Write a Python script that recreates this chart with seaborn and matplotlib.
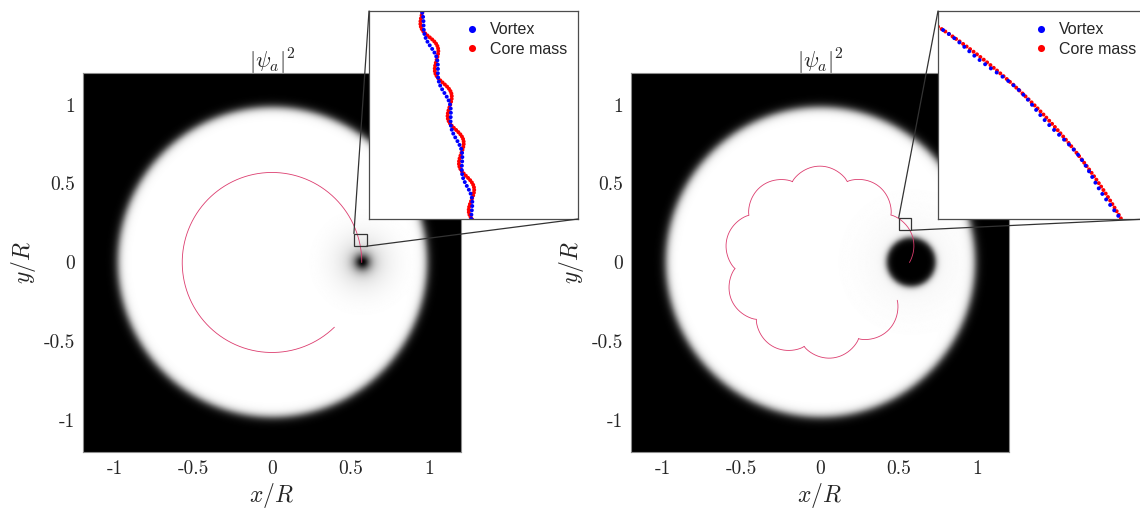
import numpy as np
import pandas as pd
import seaborn as sns
import matplotlib.pyplot as plt
from matplotlib.patches import Rectangle, ConnectionPatch

sns.set_theme(style='white')
plt.rcParams['mathtext.fontset'] = 'cm'

# --- values (lengths in units of R) ---
cloud_radius = 0.98
cloud_edge = 0.03
core_x = [0.57, 0.575]
core_y = [0.0, 0.0]
core_heal = [0.05, 0.02]        # vortex healing length
core_radius = [0.0, 0.155]      # radius of the filled core
core_edge = [0.005, 0.022]
halo_depth = [0.12, 0.04]
halo_radius = [0.18, 0.30]

orbit_radius = [0.57, 0.54]     # inner radius of the path
lobe_height = [0.0, 0.07]       # scallop height of the path
lobe_width_deg = [37.6, 37.6]
lobe_start_deg = [-3.9, -3.9]
orbit_start_deg = [0.0, 0.0]
orbit_end_deg = [314.0, 334.0]

core_wiggle = [0.0019, 0.0]
vortex_wiggle = [0.0009, 0.0006]
wiggle_len = [0.0185, 0.03]
inset_deg = [(8.0, 22.0), (16.0, 32.0)]
dot_step = [0.0010, 0.0014]

zoom_x = [(0.52, 0.60), (0.50, 0.58)]
zoom_y = [(0.103, 0.183), (0.204, 0.284)]

tick_vals = [-1, -0.5, 0, 0.5, 1]
tick_labels = ['-1', '-0.5', '0', '0.5', '1']
series_names = ['Vortex', 'Core mass']
series_colors = {'Vortex': 'blue', 'Core mass': 'red'}


def path_radius(i, th_deg):
    lobe = np.abs(np.sin(np.pi * (th_deg - lobe_start_deg[i]) / lobe_width_deg[i])) ** 0.8
    return orbit_radius[i] + lobe_height[i] * lobe


def density(i):
    g = np.linspace(-1.2, 1.2, 700)
    X, Y = np.meshgrid(g, g)
    r = np.hypot(X, Y)
    rho = 0.5 * (1 - np.tanh((r - cloud_radius) / cloud_edge))
    d = np.hypot(X - core_x[i], Y - core_y[i])
    rho *= np.tanh(d / core_heal[i]) ** 2
    rho *= 0.5 * (1 + np.tanh((d - core_radius[i]) / core_edge[i]))
    rho *= 1 - halo_depth[i] * np.exp(-(d / halo_radius[i]) ** 2)
    return rho


def inset_dots(i):
    r0 = orbit_radius[i]
    # core mass dots
    th = np.arange(inset_deg[i][0], inset_deg[i][1], np.degrees(dot_step[i] / r0))
    s = r0 * np.radians(th)
    r = path_radius(i, th) + core_wiggle[i] * np.sin(2 * np.pi * s / wiggle_len[i])
    core = pd.DataFrame({'x': r * np.cos(np.radians(th)), 'y': r * np.sin(np.radians(th)),
                         'kind': 'Core mass'})
    # vortex dots, sparser
    th = np.arange(inset_deg[i][0] + 0.03, inset_deg[i][1], np.degrees(1.6 * dot_step[i] / r0))
    s = r0 * np.radians(th)
    r = path_radius(i, th) - 0.0006 + vortex_wiggle[i] * np.sin(2 * np.pi * s / wiggle_len[i] + 1.3)
    vort = pd.DataFrame({'x': r * np.cos(np.radians(th)), 'y': r * np.sin(np.radians(th)),
                         'kind': 'Vortex'})
    return pd.concat([core, vort], ignore_index=True)


fig = plt.figure(figsize=(11.4, 5.11), dpi=100)
main_pos = [[0.0728, 0.1155, 0.3316, 0.7417], [0.5535, 0.1155, 0.3316, 0.7417]]
inset_pos = [[0.3237, 0.5714, 0.1833, 0.4070], [0.8228, 0.5714, 0.1833, 0.4070]]

for i in range(2):
    ax = fig.add_axes(main_pos[i])
    ax.imshow(density(i), extent=(-1.2, 1.2, -1.2, 1.2), origin='lower', cmap='gray',
              vmin=0, vmax=1, interpolation='bilinear', aspect='auto')

    # trajectory of the core
    th = np.linspace(orbit_start_deg[i], orbit_end_deg[i], 3000)
    r = path_radius(i, th)
    traj = pd.DataFrame({'x': r * np.cos(np.radians(th)), 'y': r * np.sin(np.radians(th))})
    sns.lineplot(data=traj, x='x', y='y', sort=False, estimator=None, color='#dc3c6e',
                 lw=0.6, ax=ax)

    ax.set_xlim(-1.2, 1.2)
    ax.set_ylim(-1.2, 1.2)
    ax.set_xticks(tick_vals)
    ax.set_yticks(tick_vals)
    ax.set_xticklabels(tick_labels, family='cmr10')
    ax.set_yticklabels(tick_labels, family='cmr10')
    ax.tick_params(labelsize=14, length=0, pad=6)
    ax.set_xlabel('$x/R$', fontsize=17, labelpad=2)
    ax.set_ylabel('$y/R$', fontsize=17, labelpad=4)
    ax.set_title(r'$|\psi_a|^2$', fontsize=16, pad=3)
    for sp in ax.spines.values():
        sp.set_color('0.55')
        sp.set_linewidth(0.8)

    # zoom box
    x0, x1 = zoom_x[i]
    y0, y1 = zoom_y[i]
    ax.add_patch(Rectangle((x0, y0), x1 - x0, y1 - y0, fill=False, ec='0.2', lw=0.9, zorder=5))

    axins = fig.add_axes(inset_pos[i])
    axins.set_facecolor('white')
    dots = inset_dots(i)
    sns.scatterplot(data=dots, x='x', y='y', hue='kind', hue_order=series_names,
                    palette=series_colors, s=8, linewidth=0, ax=axins)
    axins.set_xlim(x0, x1)
    axins.set_ylim(y0, y1)
    axins.set_xticks([])
    axins.set_yticks([])
    axins.set_xlabel('')
    axins.set_ylabel('')
    for sp in axins.spines.values():
        sp.set_color('0.3')
        sp.set_linewidth(0.9)
    h, l = axins.get_legend_handles_labels()
    axins.legend(h, l, loc='upper right', frameon=False, markerscale=1.8,
                 handletextpad=0.1, borderaxespad=0.3, labelspacing=0.3,
                 prop={'family': 'Liberation Sans', 'size': 11.5})

    # connector lines
    for pa, pb in [((x0, y1), (0, 1)), ((x1, y0), (1, 0))]:
        con = ConnectionPatch(xyA=pa, coordsA=ax.transData, xyB=pb, coordsB=axins.transAxes,
                              color='0.2', lw=0.9)
        fig.add_artist(con)

fig.savefig('out.png', dpi=100)
